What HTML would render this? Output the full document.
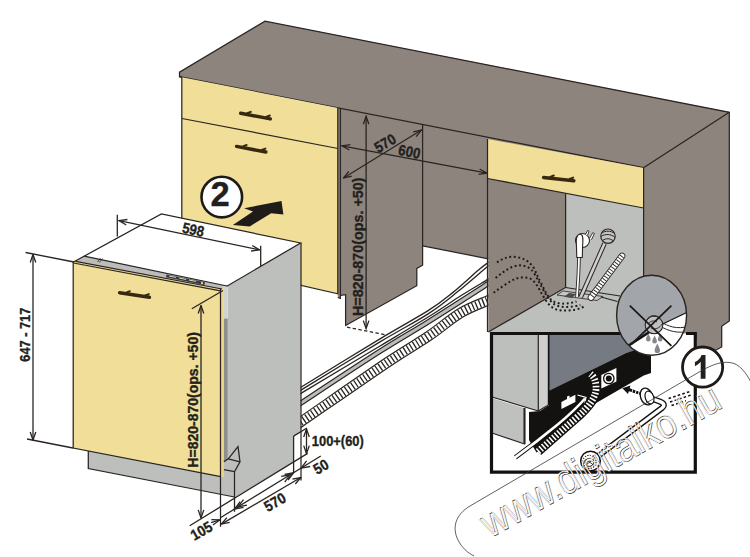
<!DOCTYPE html>
<html>
<head>
<meta charset="utf-8">
<title>Dishwasher installation diagram</title>
<style>
html,body{margin:0;padding:0;background:#fff;}
body{width:750px;height:557px;overflow:hidden;font-family:"Liberation Sans",sans-serif;}
svg{display:block;}
text{font-family:"Liberation Sans",sans-serif;font-weight:bold;fill:#231f1c;stroke:#231f1c;stroke-width:0.35;}
.ln{stroke:#2a2522;stroke-width:1.25;fill:none;}
.dim{stroke:#2a2522;stroke-width:1.3;fill:none;}
</style>
</head>
<body>
<svg width="750" height="557" viewBox="0 0 750 557">
<defs>
  <marker id="ah" viewBox="0 0 12 10" refX="11" refY="5" markerWidth="12" markerHeight="10" markerUnits="userSpaceOnUse" orient="auto-start-reverse">
    <path d="M3,2.2 L11,5 L3,7.8" fill="none" stroke="#2a2522" stroke-width="1.3"/>
  </marker>
</defs>
<rect x="0" y="0" width="750" height="557" fill="#ffffff"/>

<!-- ============ HOSES (behind cabinets) ============ -->
<g id="hoses">
  <path d="M297.3,389.4 L301.3,387.0 C314.4,379.0 358.8,351.6 380.0,338.8 C401.2,326.0 416.4,318.1 428.5,310.4 C440.6,302.7 444.4,299.3 452.7,292.6 C461.0,285.9 472.8,274.9 478.5,270.0 C484.2,265.1 485.8,264.3 487.2,263.2 L495.2,256.9" stroke="#2a2522" stroke-width="1.35" fill="none"/>
  <path d="M297.3,392.3 L301.3,389.9 C314.4,381.9 358.8,354.6 380.0,341.9 C401.2,329.2 415.6,322.0 428.5,313.6 C441.4,305.2 448.4,299.1 457.5,291.8 C466.6,284.5 478.4,274.2 483.4,270.0 C488.3,265.8 486.6,267.3 487.2,266.8 L495.2,260.1" stroke="#2a2522" stroke-width="1.35" fill="none"/>
  <path d="M297.3,395.5 L301.3,393.1 C314.4,385.2 358.8,358.7 380.0,346.0 C401.2,333.3 415.0,325.2 428.5,316.8 C442.0,308.4 451.0,302.0 460.8,295.8 C470.6,289.6 483.0,282.4 487.4,279.7 L495.4,274.9" stroke="#2a2522" stroke-width="1.35" fill="none"/>
  <path d="M297.3,405.4 L301.3,402.8 C314.4,394.2 358.8,364.8 380.0,351.3 C401.2,337.8 410.6,332.9 428.5,321.7 C446.4,310.5 477.6,290.4 487.4,284.1 L495.4,279.0" stroke="#2a2522" stroke-width="5.4" fill="none"/>
  <path d="M297.3,405.4 L301.3,402.8 C314.4,394.2 358.8,364.8 380.0,351.3 C401.2,337.8 410.6,332.9 428.5,321.7 C446.4,310.5 477.6,290.4 487.4,284.1 L495.4,279.0" stroke="#bcbcbc" stroke-width="3" fill="none"/>
  <path d="M297.3,424.3 L301.3,421.6 C315.8,411.7 366.8,376.2 388.0,362.0 C409.2,347.8 416.4,344.4 428.5,336.2 C440.6,328.0 451.0,318.7 460.8,312.8 C470.6,306.9 483.0,302.7 487.4,300.7 L495.4,297.1" stroke="#2a2522" stroke-width="10.6" fill="none"/>
  <path d="M297.3,424.3 L301.3,421.6 C315.8,411.7 366.8,376.2 388.0,362.0 C409.2,347.8 416.4,344.4 428.5,336.2 C440.6,328.0 451.0,318.7 460.8,312.8 C470.6,306.9 483.0,302.7 487.4,300.7 L495.4,297.1" stroke="#ffffff" stroke-width="8.2" fill="none"/>
  <path d="M297.3,424.3 L301.3,421.6 C315.8,411.7 366.8,376.2 388.0,362.0 C409.2,347.8 416.4,344.4 428.5,336.2 C440.6,328.0 451.0,318.7 460.8,312.8 C470.6,306.9 483.0,302.7 487.4,300.7 L495.4,297.1" stroke="#2a2522" stroke-width="8.2" stroke-dasharray="1.3 2.4" fill="none"/>
</g>

<!-- ============ COUNTER + CABINET BODY (gray) ============ -->
<g id="body">
  <!-- big gray silhouette -->
  <path d="M265,21 L729.3,112 L729.3,321 L721.7,326.3 L721.7,347 L697,360.3 L697,340 L644,340 L644,300 L488.3,332 L488.3,258.8 L422.6,245.8 L422.6,265.2 L416.8,268.4 L416.8,285.7 L345.6,325.5 L345.6,294.6 L340.4,295.3 L340.4,298.3 L337.8,297.5 L337.8,108 L182,77.3 L179.5,76.7 L179.5,72.2 Z" fill="#8d847e"/>
  <path class="ln" d="M182,77.3 L179.5,76.7 L179.5,72.2 L265,21.2 L729.3,112.3 L729.3,321 L721.7,326.3 L721.7,347 L697,360.3"/>
  <path class="ln" d="M729.3,112.3 L643.5,167.7"/>
  <!-- front lower edge of counter -->
  <path class="ln" d="M179.5,76.7 L643.5,167.7"/>
</g>

<!-- left cabinet yellow -->
<g id="leftcab">
  <path d="M182,77.3 L338,108 L338,293.6 L182,258 Z" fill="#f1de98"/>
  <path class="ln" d="M181.8,77.3 L181.8,258"/>
  <path class="ln" d="M337.8,108 L337.8,293.8 L182,258"/>
  <path class="ln" d="M182,118.5 L338,148.5"/>
  <path class="ln" d="M340.4,109 L340.4,298.3 L337.8,297.5"/>
  <path class="ln" d="M340.4,295.3 L345.6,294.6 L345.6,325.5 L416.8,285.7 L416.8,268.4 L422.6,265.2 L422.6,124"/>
  <path class="ln" d="M422.6,245.8 L488.3,258.8"/>
</g>

<!-- right cabinet -->
<g id="rightcab">
  <path d="M565.6,192 L643.6,207 L643.6,335 L565.6,335 Z" fill="#bdbfbc"/>
  <path d="M488.3,332 L565.6,287.5 L643.6,298 L643.6,335 Z" fill="#bcbfbc"/>
  <path d="M487.5,139 L643.6,168 L643.6,208 L487.5,178.5 Z" fill="#f1de98"/>
  <path class="ln" d="M487.5,139 L487.5,332"/>
  <path class="ln" d="M487.5,178.5 L643.6,208"/>
  <path class="ln" d="M643.6,168 L643.6,300"/>
  <path class="ln" d="M565.6,193.5 L565.6,287.5 L488.3,332"/>
  <path class="ln" d="M565.6,287.5 L620,296"/>
</g>

<!-- ============ DISHWASHER ============ -->
<g id="dw">
  <!-- plinth -->
  <path d="M88.3,450 L88.3,468.6 L234.5,497 L234.5,458 L215,458 Z" fill="#bdbfbc"/>
  <!-- side panel -->
  <path d="M227.8,286 L300.6,243 L300.6,432 L293.6,436.1 L293.6,462.1 L234.5,497.6 L234.5,470 L227.8,470 Z" fill="#bdbfbc"/>
  <!-- top -->
  <path d="M73.5,262 L161.4,214 L300.6,243 L227,286 L84.2,256.1 Z" fill="#ffffff"/>
  <!-- control band -->
  <path d="M75.5,261.4 L84.2,256.1 L227,286 L222,289 Z" fill="#bcbcba"/>
  <!-- door -->
  <path d="M73.5,262 L75.5,261.4 L222,289 L221,290.5 L221,476.7 L73,448 Z" fill="#f1de98"/>
  <path d="M220.6,288.4 L223.9,286 L223.9,476.9 L220.6,476.7 Z" fill="#ead58c"/>
  <path d="M223.9,286 L227.8,285 L227.8,318.5 L223.9,318.5 Z" fill="#d2d2d0"/>
  <path d="M223.9,318.5 L227.8,318.5 L227.8,458.8 L223.9,461.7 Z" fill="#8e8e8c"/>
  <path class="ln" d="M73.5,262 L161.4,214 L300.6,243 L226.8,286.2"/>
  <path class="ln" d="M84.2,256.1 L227,286"/>
  <path class="ln" stroke-width="0.8" d="M75.5,261.4 L222,289"/>
  <path class="ln" d="M73.5,263 L220.5,290.8"/>
  <path class="ln" d="M73.2,261.8 L73.2,448 L220.7,476.7"/>
  <path class="ln" d="M220.5,288.4 L220.5,526.8"/>
  <path class="ln" d="M301,243 L301,480.5"/>
  <path class="ln" d="M88.3,451 L88.3,468.6 L234.5,497"/>
  <path class="ln" stroke-width="0.9" d="M223.9,461.7 L228.3,458.8 L238,446.6 L240,461.9 L234.5,471.7 L234.5,497"/>
  <path class="ln" stroke-width="0.9" d="M223.9,469.6 L234.5,471.7 M228.3,458.8 L240,461.9"/>
</g>

<!-- ============ CABINET INTERIOR ITEMS ============ -->
<g id="interior">
  <!-- floor hole -->
  <path d="M563,291 L603,296.5 L597,300.5 L557,295 Z" fill="#c9c9c7" stroke="#2a2522" stroke-width="0.8"/>
  <path d="M569,293 L576,294 L572,298 L564,296.8 Z" fill="#4a4a48"/>
  <!-- plug cable -->
  <path d="M579,258 L578.4,275 L577,297" stroke="#2a2522" stroke-width="3.6" fill="none"/>
  <path d="M579,258 L578.4,275 L577,297" stroke="#ffffff" stroke-width="1.8" fill="none"/>
  <!-- plug head -->
  <circle cx="582.5" cy="240.5" r="7" fill="#ffffff" stroke="#2a2522" stroke-width="1.1"/>
  <path d="M585.5,234.5 L587.5,230.5 L589,231.2 L587.6,235.4" fill="#ffffff" stroke="#2a2522" stroke-width="0.9"/>
  <path d="M589.5,238.5 L592.8,232.6 L594.4,233.5 L591.4,239.8" fill="#ffffff" stroke="#2a2522" stroke-width="0.9"/>
  <path d="M576.3,242 C576,236 578.5,233.5 581,234.5 C583.5,235.5 583,240 582.6,246 L582.3,257.5 L576.8,257.5 Z" fill="#ffffff" stroke="#2a2522" stroke-width="1.1"/>
  <!-- drain pipe with bulb -->
  <path d="M604.5,243.5 L580.8,297" stroke="#2a2522" stroke-width="4.6" fill="none"/>
  <path d="M604.5,243.5 L580.8,297" stroke="#d0d0ce" stroke-width="2.6" fill="none"/>
  <circle cx="608" cy="236.2" r="7.2" fill="#c4c4c2" stroke="#2a2522" stroke-width="1.2"/>
  <path d="M602,233 C605,230.5 611,230.5 614.5,233.5 M601,236.5 C605,233.5 611.5,234 615,237.5 M602.5,240.5 C606,238 610,238.2 613.5,241" stroke="#2a2522" stroke-width="1" fill="none"/>
  <!-- corrugated -->
  <path d="M622,256 L591,297.5" stroke="#2a2522" stroke-width="6.6" fill="none" stroke-linecap="round"/>
  <path d="M622,256 L591,297.5" stroke="#ffffff" stroke-width="4.8" fill="none" stroke-linecap="round"/>
  <path d="M622,256 L591,297.5" stroke="#2a2522" stroke-width="4.8" stroke-dasharray="0.9 2" fill="none"/>
  <!-- dotted curves -->
  <g stroke="#1e1a18" stroke-width="2" stroke-dasharray="1.9 2.6" fill="none">
    <path d="M497,262.4 C503,258 510,256 516,257 C524,258 530,262 533.5,267.5 C537,274 538,278 541.3,283.4 C544.5,290 547,295.5 551,299.6 C555,303 560,303.8 564.2,303.6 C569,303.4 573,302.5 576.5,301.5"/>
    <path d="M495.6,278 C503,272 511,266 518.5,265.4 C526,265 531,268 534.6,274 C538,280 540,284 542.7,288.8 C546,295 549,300 553.4,303.6 C557,306.5 562,307.3 567,307 C572,306.8 577,306 580.4,305"/>
    <path d="M493.7,292.8 C497,290 501,287.5 505,284.8 C510,281.5 515,278 521,277.5 C527,277 530.5,278 533.3,280.8 C537,284.5 539,289 541.3,292.9 C544,297.5 547,303 550.8,306.3 C554,309 557.5,310.2 561.5,310.4 C566,310.7 571,310.5 575,309.8 C579,309 582,307.5 584.4,306.3"/>
  </g>
</g>

<!-- ============ INSET BOX ============ -->
<g id="inset">
  <rect x="491.5" y="333.5" width="203.5" height="138.7" fill="#ffffff"/>
  <clipPath id="insclip"><rect x="491.5" y="333.5" width="203.5" height="138.7"/></clipPath>
  <g clip-path="url(#insclip)">
    <!-- dark panel C -->
    <path d="M549,333 L660,333 L660,345 L625.5,353.2 L549,391 Z" fill="#767a82"/>
    <!-- black band -->
    <path d="M529,412 L529,440 L536.5,452.5 L545,447 L570,427.5 L588,410 L597,402.5 L643.8,375.5 L651,373 L651,345 L625.5,353.2 L549,390.8 L549,405 L540,411 Z" fill="#141210"/>
    <!-- panel A -->
    <path d="M492,333 L538,333 L538,411 L492,397 Z" fill="#bdbfbc"/>
    <path d="M538.6,333 L547.4,333 L547.4,405.7 L538.6,411 Z" fill="#cfcfcd"/>
    <path d="M548.6,333 L548.6,405" stroke="#141210" stroke-width="1.8"/>
    <path class="ln" d="M538.3,333 L538.3,411 L492,397"/>
    <path class="ln" d="M538.3,411 L548,405.3"/>
    <!-- panel E -->
    <path d="M492,398 L524,408 L524,444 L492,433 Z" fill="#bfc1be"/>
    <path d="M524,408 L529,410 L529,443 L524,444 Z" fill="#ffffff"/>
    <path class="ln" d="M524.5,408 L524.5,444 L492,433"/>
    <path d="M524.5,408 L524.5,444" stroke="#2a2522" stroke-width="2"/>
    <!-- small white rect -->
    <path d="M561.4,402 L567,399 L567,396.5 L569.5,395.5 L569.5,397.7 L575.4,394.8 L575.4,402 L561.4,409 Z" fill="#ffffff"/>
    <!-- inlet -->
    <path d="M601.3,375 L616.4,368 L616.4,381.5 L601.3,388.5 Z" fill="#ffffff"/>
    <circle cx="608.8" cy="378.5" r="5.2" fill="#ffffff" stroke="#141210" stroke-width="1.3"/>
    <circle cx="608.8" cy="378.5" r="3" fill="#141210"/>
    <!-- white tube (drain end) -->
    <path d="M515.4,457.3 L536.9,441.1 L557.1,425 C565,418.5 576,409 585,398.5" stroke="#141210" stroke-width="4.6" fill="none"/>
    <path d="M514.6,457.9 L536.9,441.1 L557.1,425 C565,418.5 576,409 585,398.5" stroke="#ffffff" stroke-width="2.6" fill="none"/>
    <path d="M577.5,395 L586,397.5 L584.5,404" fill="none" stroke="#ffffff" stroke-width="1.2"/>
    <!-- corrugated -->
    <path d="M538,451.5 L575,419 C590,406 597,396 596,386 C595.5,379 593,376 590.5,374" stroke="#141210" stroke-width="9.5" fill="none"/>
    <path d="M538,451.5 L575,419 C590,406 597,396 596,386 C595.5,379 593,376 590.5,374" stroke="#ffffff" stroke-width="6.8" stroke-dasharray="1.6 1.8" fill="none"/>
    <!-- arrow -->
    <path d="M622.3,388.2 L630.5,385.5 L629.6,388.3 L632.5,389.2 L631.7,392 L628.8,391.2 L628,394 Z" fill="#141210"/>
    <path d="M633.2,389.6 L635.6,390.4 L634.8,393.2 L632.4,392.4 Z M636.5,390.8 L638.7,391.5 L637.9,394.2 L635.7,393.5 Z M639.6,391.8 L641.6,392.4 L640.8,395 L638.8,394.4 Z" fill="#141210"/>
    <!-- elbow pipe -->
    <path d="M650,398 L660,401.6 Q666.5,404 662,408 L598,456" stroke="#141210" stroke-width="6" fill="none" stroke-linejoin="round"/>
    <path d="M650,398 L660,401.6 Q666.5,404 662,408 L598,456" stroke="#ffffff" stroke-width="3.4" fill="none" stroke-linejoin="round"/>
    <!-- elbow nut -->
    <ellipse cx="646.5" cy="396.5" rx="6" ry="8.6" transform="rotate(-20 646.5 396.5)" fill="#ffffff" stroke="#141210" stroke-width="1.4"/>
    <ellipse cx="649.5" cy="397.5" rx="4.2" ry="6.6" transform="rotate(-20 649.5 397.5)" fill="#ffffff" stroke="#141210" stroke-width="1.2"/>
    <!-- big nut -->
    <circle cx="590.5" cy="461" r="9.8" fill="#ffffff" stroke="#141210" stroke-width="1.5"/>
    <circle cx="589.5" cy="461.8" r="6.6" fill="#ffffff" stroke="#141210" stroke-width="1.1" stroke-dasharray="1.4 1.2"/>
    <circle cx="589.3" cy="462" r="4.4" fill="#ffffff" stroke="#141210" stroke-width="1"/>
    <path d="M585.5,459 L593.5,465 M586,465 L593,459.5" stroke="#141210" stroke-width="0.8"/>
    <!-- dashed wall marks -->
    <path d="M668.6,398.5 L690,391.5 M670,402 L691,395 M671.5,405.5 L686,400.7" stroke="#141210" stroke-width="1.5" stroke-dasharray="2.6 2.2" fill="none"/>
  </g>
  <!-- border -->
  <path d="M623,333.5 L491.5,333.5 L491.5,472.2 L695.3,472.2 L695.3,386" fill="none" stroke="#141210" stroke-width="3.2"/>
  <path d="M686,333.5 L695.3,333.5 L695.3,348" fill="none" stroke="#141210" stroke-width="3.2"/>
</g>

<!-- ============ CIRCLES ============ -->
<g id="circles">
  <clipPath id="cclip"><ellipse cx="651.6" cy="315.2" rx="35" ry="40"/></clipPath>
  <ellipse cx="651.6" cy="315.2" rx="35" ry="40" fill="#a2a5a9"/>
  <g clip-path="url(#cclip)">
    <path d="M610,360 L627.7,345.8 L651,331 L664.3,323.2 L690,311 L690,360 Z" fill="#ffffff"/>
    <path d="M624,348.5 L651,331" stroke="#141210" stroke-width="2.6" fill="none"/>
    <path d="M651,331 L664.3,323.2 L690,311" stroke="#141210" stroke-width="1.1" fill="none"/>
    <!-- hoses from valve -->
    <path d="M661,322 C668,326 676,330 690,326 M660,326 C668,331 678,334 690,331" stroke="#2a2522" stroke-width="1" fill="none"/>
    <!-- valve -->
    <circle cx="654" cy="325" r="8.8" fill="#bfc0c4" stroke="#2a2522" stroke-width="1.1"/>
    <path d="M647,320 C649,315 656,314 660,318 M651,328 C655,330 660,328 662,324 M648,324 C650,321 654,320 657,322" stroke="#2a2522" stroke-width="0.9" fill="none"/>
    <!-- drops -->
    <g fill="#85878c">
      <path d="M648.3,333.5 C649.8,336.5 650.6,338 650.6,339.2 A2.3,2.3 0 1 1 646,339.2 C646,338 646.8,336.5 648.3,333.5 Z"/>
      <path d="M654.6,335.5 C656.1,338.5 656.9,340 656.9,341.2 A2.3,2.3 0 1 1 652.3,341.2 C652.3,340 653.1,338.5 654.6,335.5 Z"/>
      <path d="M660.2,333.5 C661.7,336.5 662.5,338 662.5,339.2 A2.3,2.3 0 1 1 657.9,339.2 C657.9,338 658.7,336.5 660.2,333.5 Z"/>
      <path d="M657.3,343.5 C659,347 660,349 660,350.4 A2.7,2.7 0 1 1 654.6,350.4 C654.6,349 655.6,347 657.3,343.5 Z"/>
    </g>
    <!-- X -->
    <path d="M629.8,305.6 L671.4,345.8 M671.4,305.6 L631,344.7" stroke="#1e1a18" stroke-width="1.8" fill="none"/>
  </g>
  <ellipse cx="651.6" cy="315.2" rx="35" ry="40" fill="none" stroke="#2a2522" stroke-width="1.4"/>
  <path class="ln" d="M601,297 L617.5,301.5" stroke-width="0.9"/>
  <circle cx="702.6" cy="367.1" r="20.1" fill="#ffffff" stroke="#1e1a18" stroke-width="2.8"/>
  <circle cx="221.8" cy="197.1" r="20.3" fill="#ffffff" stroke="#1e1a18" stroke-width="2.6"/>
</g>


<!-- ============ HANDLES ============ -->
<g id="handles" stroke="#36290f" stroke-linecap="round" fill="none">
  <path d="M240.7,113.3 L270.3,118.9" stroke-width="3.5"/>
  <path d="M247.2,113.3 L250.8,111.9" stroke-width="2"/>
  <path d="M266.2,116.9 L269.8,115.5" stroke-width="2"/>
  <path d="M236.6,146.4 L265.9,152.0" stroke-width="3.5"/>
  <path d="M243.0,146.4 L246.6,145.0" stroke-width="2"/>
  <path d="M261.8,150.0 L265.4,148.6" stroke-width="2"/>
  <path d="M543.6,177.4 L573.8,180.7" stroke-width="3.5"/>
  <path d="M550.2,176.9 L553.8,175.5" stroke-width="2"/>
  <path d="M569.6,179.0 L573.2,177.6" stroke-width="2"/>
  <path d="M119.6,292.8 L149.4,297.3" stroke-width="3.5"/>
  <path d="M126.2,292.6 L129.8,291.2" stroke-width="2"/>
  <path d="M145.2,295.5 L148.8,294.1" stroke-width="2"/>
</g>

<!-- ============ BIG ARROW ============ -->
<path d="M232.9,225 L253,211.5 L244.1,208.2 L281.5,201 L283.4,214.5 L271.2,213.2 L249.7,226.4 Z" fill="#1f1b19"/>

<!-- ============ DIMENSIONS ============ -->
<g id="dims">
  <!-- 598 -->
  <path class="dim" d="M117.3,214.8 L117.3,236.5"/>
  <path class="dim" d="M260.7,245.8 L260.7,266"/>
  <path class="dim" d="M119,220.6 L259.5,249.9" marker-start="url(#ah)" marker-end="url(#ah)"/>
  <text transform="translate(193.3,229.6) rotate(11.8)" dy="5.3" font-size="15" text-anchor="middle" textLength="22" lengthAdjust="spacingAndGlyphs">598</text>
  <!-- 647-717 -->
  <path class="dim" d="M25.6,252.5 L74,262"/>
  <path class="dim" d="M27,439 L73,448"/>
  <path class="dim" d="M33,254.5 L33,440" marker-start="url(#ah)" marker-end="url(#ah)"/>
  <text transform="translate(30,334.7) rotate(-90)" font-size="14.3" text-anchor="middle" textLength="54" lengthAdjust="spacingAndGlyphs">647 - 717</text>
  <!-- H dishwasher -->
  <path class="dim" d="M191.8,308.8 L223,290.5"/>
  <path class="dim" d="M201,305.5 L201,517.9" marker-start="url(#ah)" marker-end="url(#ah)"/>
  <text transform="translate(198.3,399.9) rotate(-90)" font-size="14" text-anchor="middle" textLength="135.5" lengthAdjust="spacingAndGlyphs">H=820-870(ops. +50)</text>
  <!-- floor lines -->
  <path class="dim" d="M189.7,525.7 L307.6,453.4"/>
  <path class="dim" d="M220.4,517.7 L320.8,456"/>
  <path class="dim" d="M221.4,524.1 L300.8,477.5" marker-start="url(#ah)" marker-end="url(#ah)"/>
  <path class="dim" d="M211,522.6 L219.8,519.9" marker-end="url(#ah)"/>
  <path class="dim" d="M234.5,497 L234.5,511.8"/>
  <path class="dim" d="M293.6,436.1 L293.6,472.7"/>
  <path class="dim" d="M293.6,436.1 L307,428"/>
  <path class="dim" d="M243.6,507.3 L234.6,509.0 L240.1,501.7 M247.0,505.2 L238.0,506.9 L243.5,499.6 M288.1,480.0 L293.6,472.7 L284.6,474.4 M284.7,482.1 L290.2,474.8 L281.2,476.4 M310.1,466.5 L301.1,468.1 L306.6,460.8"/>
  <text transform="translate(201.3,530.7) rotate(-30)" dy="5.3" font-size="15" text-anchor="middle" textLength="22.5" lengthAdjust="spacingAndGlyphs">105</text>
  <text transform="translate(274.9,501.9) rotate(-30)" dy="5.3" font-size="15" text-anchor="middle" textLength="22.5" lengthAdjust="spacingAndGlyphs">570</text>
  <text transform="translate(320.8,466.7) rotate(-30)" dy="5.3" font-size="15" text-anchor="middle" textLength="15" lengthAdjust="spacingAndGlyphs">50</text>
  <!-- 100+(60) -->
  <path class="dim" d="M306.5,429 L306.5,453.6" marker-start="url(#ah)" marker-end="url(#ah)"/>
  <text x="311.8" y="446" font-size="15" textLength="52" lengthAdjust="spacingAndGlyphs">100+(60)</text>
  <!-- cavity -->
  <path class="dim" d="M366.1,116.3 L366.1,328.6" marker-start="url(#ah)" marker-end="url(#ah)"/>
  <text transform="translate(363.2,246.8) rotate(-90)" font-size="14.3" text-anchor="middle" textLength="138.5" lengthAdjust="spacingAndGlyphs">H=820-870(ops. +50)</text>
  <path class="dim" d="M342,145.8 L487,173.2" marker-start="url(#ah)" marker-end="url(#ah)"/>
  <path class="dim" d="M343.5,178 L421.5,130" marker-start="url(#ah)" marker-end="url(#ah)"/>
  <text transform="translate(385,143) rotate(-31)" dy="5.3" font-size="15" text-anchor="middle" textLength="22" lengthAdjust="spacingAndGlyphs">570</text>
  <text transform="translate(409.4,151.5) rotate(12)" dy="5.3" font-size="15" text-anchor="middle" textLength="22" lengthAdjust="spacingAndGlyphs">600</text>
  <path class="dim" d="M347,327.2 L384.6,334.6" stroke-dasharray="3.4 2.4"/>
</g>

<!-- circle digits -->
<text x="220.1" y="206.3" font-size="34.5" text-anchor="middle">2</text>
<path d="M705.5,355 L705.5,378.8 L700.7,378.8 L700.7,361.8 C699.2,363.6 697.2,365.2 694.9,366.2 L694.9,362 C698,360.8 700.3,358.5 701.6,355 Z" fill="#231f1c"/>


<!-- ============ CONTROL PANEL DETAILS ============ -->
<g id="ctrl">
  <path d="M166.6,274.6 L205,282.3 L204.4,285 L166,277.3 Z" fill="#3a3836"/>
  <path d="M169,276 L176,277.4 M179,278 L186,279.4 M189,280 L196,281.4" stroke="#d8d8d6" stroke-width="1" fill="none"/>
  <path d="M97.5,262 L100.5,258.2 M99.5,262.4 L102.5,258.6" stroke="#2a2522" stroke-width="0.8"/>
  <circle cx="202" cy="283" r="1.1" fill="#e8e8e6"/>
</g>

<!-- ============ WATERMARK ============ -->
<g id="wm" fill="none" stroke="#3a3633" stroke-width="0.8">
  <path d="M753,386 C748,376 742,366.5 734,363.5 C724,360 712,364.5 700,371.5 L470,506 C455,515 452,528 458,540 C462,548 468,553 474,556"/>
  <text transform="translate(490.3,538.2) rotate(-29.3)" font-size="41" textLength="268" lengthAdjust="spacingAndGlyphs" style="font-weight:normal;fill:none;stroke:#4a4643;stroke-width:1.1;">www.digitalko.hu</text>
  <text transform="translate(489.5,537.5) rotate(-29.3)" font-size="41" textLength="268" lengthAdjust="spacingAndGlyphs" style="font-weight:normal;fill:none;stroke:#ffffff;stroke-width:1.0;">www.digitalko.hu</text>
</g>

</svg>
</body>
</html>
